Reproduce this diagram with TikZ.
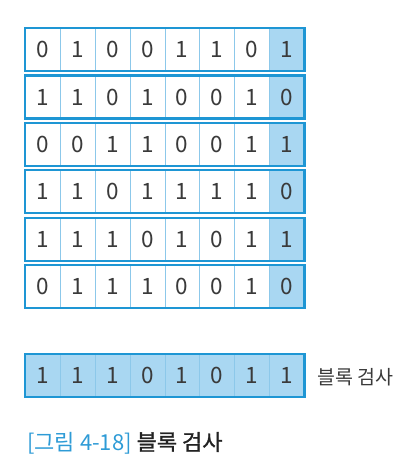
\documentclass[tikz,border=0pt]{standalone}
\usepackage{fontspec}
\setmainfont{Noto Sans CJK KR}
\newfontfamily\capbold[FakeBold=1.3]{Noto Sans CJK KR}
\usetikzlibrary{shadows}
\definecolor{bord}{HTML}{1E96D4}
\definecolor{cellfill}{HTML}{A9D7F2}
\definecolor{divline}{HTML}{8CC8EA}
\definecolor{digit}{HTML}{3A3A3A}
\definecolor{capblue}{HTML}{2E9BD6}
\definecolor{captext}{HTML}{222222}
\tikzset{
  cell/.style={draw=divline, line width=0.6pt, minimum width=34.875pt, minimum height=42.7pt,
    inner sep=0pt, font=\fontsize{22.5}{22.5}\selectfont, text=digit, anchor=north west},
  parity/.style={cell, fill=cellfill},
  rowbase/.style={fill=white, minimum width=279pt, minimum height=42.7pt, inner sep=0pt,
    anchor=north west, drop shadow={opacity=0.18, shadow xshift=1pt, shadow yshift=-1.2pt}},
  rowframe/.style={draw=bord, line width=2.2pt},
  lbl/.style={font=\fontsize{19.5}{19.5}\selectfont, text=digit, inner sep=0pt, anchor=west},
}
\begin{document}
\begin{tikzpicture}[x=1pt,y=-1pt]
\useasboundingbox (0,0) rectangle (410,461);
\foreach \bits [count=\r] in {{0,1,0,0,1,1,0,1},{1,1,0,1,0,0,1,0},{0,0,1,1,0,0,1,1},{1,1,0,1,1,1,1,0},{1,1,1,0,1,0,1,1},{0,1,1,1,0,0,1,0}}{
  \pgfmathsetmacro\rowtop{28+(\r-1)*47.4}
  \node[rowbase] (row\r) at (25,\rowtop) {};
  \foreach \b [count=\c] in \bits {
    \ifnum\c=8 \def\sty{parity}\else\def\sty{cell}\fi
    \node[\sty] (r\r c\c) at ({25+(\c-1)*34.875},\rowtop) {\b};
  }
  \draw[rowframe] (row\r.north west) rectangle (row\r.south east);
}
% block check row
\node[rowbase] (rowS) at (25,354) {};
\foreach \b [count=\c] in {1,1,1,0,1,0,1,1} {
  \node[parity] (s\c) at ({25+(\c-1)*34.875},354) {\b};
}
\draw[rowframe] (rowS.north west) rectangle (rowS.south east);
\node[lbl] (bc) at (317,377) {블록 검사};
\node[anchor=west, inner sep=0pt, font=\fontsize{22}{22}\selectfont] (cap) at (27,443)
  {\textcolor{capblue}{[그림 4-18]} \textcolor{captext}{\capbold 블록 검사}};
\end{tikzpicture}
\end{document}
